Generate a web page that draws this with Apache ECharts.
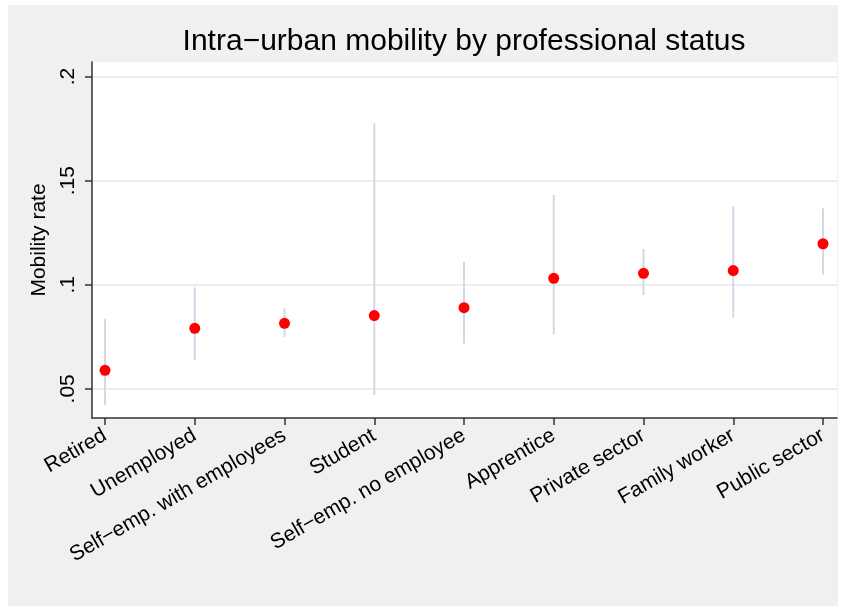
<!DOCTYPE html>
<html>
<head>
<meta charset="utf-8">
<title>Intra−urban mobility by professional status</title>
<script src="https://cdn.jsdelivr.net/npm/echarts@6/dist/echarts.min.js"></script>
<style>
  html, body { margin: 0; padding: 0; background: #ffffff; }
  #chart { width: 845px; height: 611px; }
</style>
</head>
<body>
<div id="chart"></div>
<script>
// Professional status groups, ordered by mobility rate
const categories = [
  'Retired', 'Unemployed', 'Self−emp. with employees', 'Student',
  'Self−emp. no employee', 'Apprentice', 'Private sector',
  'Family worker', 'Public sector'
];
// Point estimate of the mobility rate per group
const rate  = [0.0589, 0.0791, 0.0815, 0.0852, 0.0890, 0.1031, 0.1055, 0.1068, 0.1197];
// Confidence interval bounds
const lower = [0.0423, 0.0637, 0.0748, 0.0471, 0.0717, 0.0762, 0.0951, 0.0842, 0.1049];
const upper = [0.0837, 0.0988, 0.0887, 0.1776, 0.1111, 0.1431, 0.1172, 0.1377, 0.1367];
// Y axis ticks and their labels
const yTickValues = [0.05, 0.1, 0.15, 0.2];
const yTickLabels = ['.05', '.1', '.15', '.2'];

const FONT = '"Liberation Sans", Arial, Helvetica, sans-serif';
const positions = categories.map((_, i) => i);

const chart = echarts.init(document.getElementById('chart'), null, { renderer: 'canvas' });

chart.setOption({
  backgroundColor: '#ffffff',
  animation: false,
  textStyle: { fontFamily: FONT },
  graphic: [{
    type: 'rect',
    z: -100,
    silent: true,
    shape: { x: 8, y: 5, width: 830, height: 601 },
    style: { fill: '#f0f0f0' }
  }],
  title: {
    text: 'Intra−urban mobility by professional status',
    left: 464,
    top: 27,
    padding: 0,
    textAlign: 'center',
    textStyle: { fontFamily: FONT, fontSize: 30, fontWeight: 'normal', color: '#000' }
  },
  grid: {
    left: 92, right: 8, top: 62, bottom: 193,
    show: true, backgroundColor: '#ffffff', borderWidth: 0
  },
  xAxis: {
    type: 'value',
    min: -0.145,
    max: 8.156,
    axisLine: { show: true, onZero: false, lineStyle: { color: '#333', width: 1.5 } },
    axisTick: { show: true, length: 7, customValues: positions, lineStyle: { color: '#333', width: 1.5 } },
    axisLabel: {
      customValues: positions,
      rotate: 30,
      margin: 16,
      fontSize: 21,
      fontFamily: FONT,
      color: '#000',
      formatter: v => categories[Math.round(v)]
    },
    splitLine: { show: false }
  },
  yAxis: {
    type: 'value',
    min: 0.036,
    max: 0.207,
    name: 'Mobility rate',
    nameLocation: 'middle',
    nameGap: 38,
    nameTextStyle: { fontSize: 21, fontFamily: FONT, color: '#000' },
    axisLine: { show: true, onZero: false, lineStyle: { color: '#333', width: 1.5 } },
    axisTick: { show: true, length: 7, customValues: yTickValues, lineStyle: { color: '#333', width: 1.5 } },
    axisLabel: {
      customValues: yTickValues,
      rotate: 90,
      margin: 13,
      fontSize: 21,
      fontFamily: FONT,
      color: '#000',
      formatter: v => yTickLabels[yTickValues.findIndex(t => Math.abs(t - v) < 1e-9)]
    },
    splitLine: { show: true, lineStyle: { color: '#e6e6e6', width: 1.5 } }
  },
  series: [
    {
      // Confidence interval whiskers
      type: 'custom',
      z: 2,
      data: positions.map(i => [i, lower[i], upper[i]]),
      encode: { x: 0, y: [1, 2] },
      renderItem: (params, api) => {
        const lo = api.coord([api.value(0), api.value(1)]);
        const hi = api.coord([api.value(0), api.value(2)]);
        return {
          type: 'line',
          shape: { x1: lo[0], y1: lo[1], x2: hi[0], y2: hi[1] },
          style: { stroke: '#d3d8e6', lineWidth: 2 }
        };
      }
    },
    {
      // Point estimates
      type: 'scatter',
      z: 3,
      symbol: 'circle',
      symbolSize: 11,
      itemStyle: { color: '#ff0000', opacity: 1 },
      data: positions.map(i => [i, rate[i]])
    }
  ]
});
</script>
</body>
</html>
